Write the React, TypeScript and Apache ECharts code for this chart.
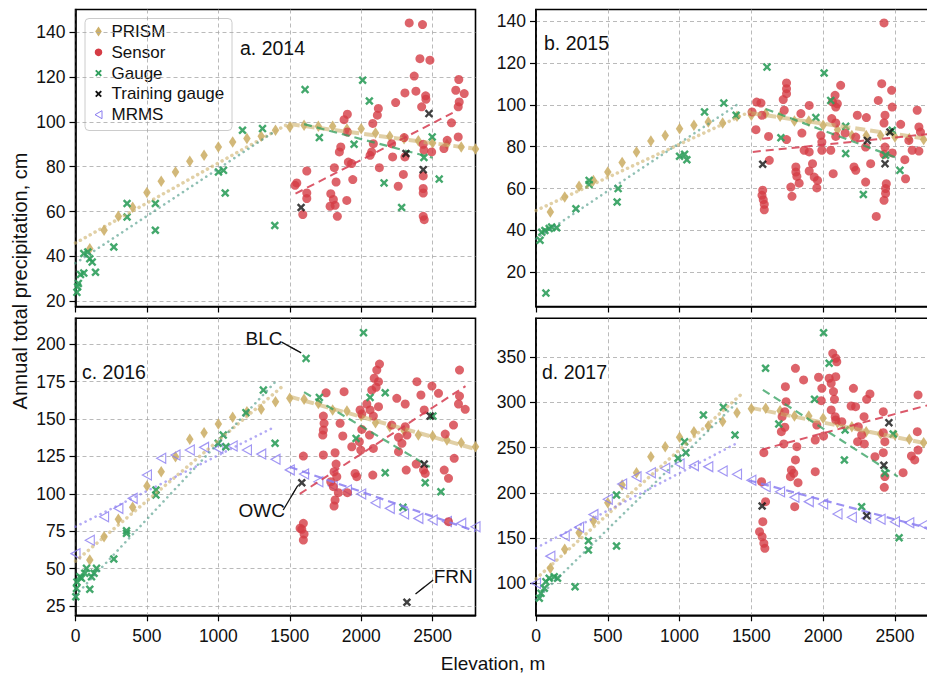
import { useEffect, useRef } from 'react';
import * as echarts from 'echarts';

type P = [number, number];

// ---------- tick labels ----------
const elevationTicks = [0, 500, 1000, 1500, 2000, 2500];
const precipTicks2014 = [20, 40, 60, 80, 100, 120, 140];
const precipTicks2015 = [20, 40, 60, 80, 100, 120, 140];
const precipTicks2016 = [25, 50, 75, 100, 125, 150, 175, 200];
const precipTicks2017 = [100, 150, 200, 250, 300, 350];
const precipRange: P[] = [[17.7, 150.1], [3.7, 145.5], [18.8, 217.4], [64.6, 393.1]];

const panelTitles = ['a. 2014', 'b. 2015', 'c. 2016', 'd. 2017'];
const legendNames = ['PRISM', 'Sensor', 'Gauge', 'Training gauge', 'MRMS'];

// ---------- PRISM (regular elevation bands) ----------
const prismElevation = [100, 200, 300, 400, 500, 600, 700, 800, 900, 1000, 1100, 1200, 1300, 1400,
  1500, 1600, 1700, 1800, 1900, 2000, 2100, 2200, 2300, 2400, 2500, 2600, 2700, 2800];
const prism2014 = [43.5, 51.7, 57.9, 62, 68.5, 73.5, 77.7, 82.4, 85.1, 88.8, 91, 92.6, 93.6, 96.3,
  97.7, 98.5, 98.1, 98, 96.8, 96.9, 95, 93.6, 92.5, 91.6, 90.6, 90, 88.8, 87.9];
const prism2015 = [48.8, 56, 61.1, 63.9, 67.9, 72.4, 77.5, 82.7, 85.4, 88.6, 90.2, 91.8, 91.3, 94.5,
  95, 95.8, 94.5, 92.3, 92.3, 90.2, 88.1, 85.4, 85.4, 85.4, 84.6, 83.9, 83.4, 83];
const prism2016 = [55.8, 71.3, 83, 91, 105.2, 114.8, 124.8, 136.5, 140.9, 146.7, 151.2, 154.9, 156.5, 161.6,
  163.9, 163.2, 160.5, 156.1, 155.4, 152, 147.6, 144.9, 142.2, 139.3, 138.7, 136, 134.2, 131.5];
const prism2017 = [116.6, 137.6, 156, 168.9, 189.2, 208.7, 222.3, 240, 251.1, 261.5, 267.7, 274, 279, 288.7,
  293, 293.6, 290.9, 285.1, 285.1, 282.5, 277.7, 273.2, 267.7, 265.2, 264, 259.3, 255.5, 252];

// ---------- MRMS (2016 and 2017 only) ----------
const mrmsElevation = [0, 100, 200, 300, 400, 500, 600, 700, 800, 900, 1000, 1100, 1200, 1300, 1400,
  1500, 1600, 1700, 1800, 1900, 2000, 2100, 2200, 2300, 2400, 2500, 2600, 2700, 2800];
const mrms2016 = [60, 69, 84.7, 90.3, 97, 112.6, 123.8, 126, 129.3, 131.1, 130.4, 132, 129.3, 126.6, 123.1,
  116, 113.3, 108.1, 105.4, 102.6, 99.9, 94.1, 90.3, 86.5, 83.6, 82.5, 81.5, 80.3, 78];
const mrms2017 = [100, 130, 152.5, 162, 176, 193, 209.8, 217.9, 222.3, 227.2, 232, 230.1, 229, 224.2, 220.6,
  214, 206.8, 201.3, 195.1, 190.3, 187.7, 176.7, 173, 171.9, 170.8, 168.1, 167, 164.5, 162];

// ---------- precipitation gauges [elevation m, cm] ----------
const gauge2014: P[] = [[10, 24], [15, 26.5], [20, 28], [35, 32], [58, 32.6], [58, 41.3], [86, 42], [100, 39],
  [117, 37.5], [140, 33], [268, 44.2], [361, 57.6], [361, 63.6], [559, 63.6], [559, 51.7], [1001, 77.7],
  [1036, 78.4], [1048, 68.3], [1169, 96.3], [1309, 97], [1395, 53.8], [1607, 114.4], [1707, 93], [1950, 90],
  [2010, 118.6], [2057, 109.3], [2160, 72.8], [2283, 61.8], [2439, 84.1], [2497, 93.3], [2546, 74.5]];
const gauge2015: P[] = [[28, 35.3], [40, 39.2], [62, 40], [92, 40.9], [109, 41.6], [144, 41.3], [69, 10.1],
  [278, 50.4], [370, 63.9], [370, 62], [572, 60], [565, 53.6], [1000, 75.4], [1035, 76.4], [1051, 73.8],
  [1174, 96.6], [1308, 100.8], [1394, 95], [1609, 118], [1706, 84.3], [1949, 93.9], [2007, 115.2],
  [2053, 102.1], [2157, 89.7], [2157, 76.7], [2280, 57.2], [2435, 75.9], [2481, 87.8], [2535, 68.7]];
const gauge2016: P[] = [[2, 31.2], [7, 36.8], [10, 41], [30, 44.6], [42, 43.5], [65, 46.9], [77, 50.2],
  [100, 36.2], [112, 44.6], [130, 46.9], [147, 50.2], [268, 56.4], [357, 75.3], [357, 73.6], [563, 102.6],
  [563, 99.2], [999, 133.8], [1034, 139.3], [1053, 131.5], [1193, 154.3], [1315, 169.4], [1397, 133.8],
  [1614, 190.6], [1707, 164.5], [1964, 137.1], [2016, 207.8], [2062, 164.5], [2168, 167.6], [2168, 114.1],
  [2292, 91], [2448, 107.4], [2502, 152], [2558, 101.4]];
const gauge2017: P[] = [[23, 83.4], [35, 88.9], [58, 94.5], [69, 101.8], [92, 105.5], [127, 107.3], [150, 105.5],
  [272, 96.2], [365, 147.1], [365, 136.8], [561, 141.3], [561, 197.7], [989, 238.3], [1035, 256.6],
  [1044, 244.5], [1166, 286.2], [1305, 294.7], [1386, 264], [1599, 337.8], [1691, 276.2], [1940, 303.5],
  [2003, 377.2], [2042, 343.4], [2148, 236.4], [2153, 269.6], [2268, 184.7], [2430, 221.7], [2488, 265.2],
  [2529, 150.4]];

// ---------- training gauges ----------
const training2014: P[] = [[1579, 61.8], [2313, 85.9], [2434, 78.7], [2474, 103.7]];
const training2015: P[] = [[1579, 71.6], [2308, 83], [2431, 71.9], [2465, 87]];
const training2016: P[] = [[1584, 107.4], [2320, 27.5], [2441, 119.9], [2483, 152]];
const training2017: P[] = [[1575, 185.5], [2303, 174.8], [2423, 230.5], [2458, 277.7]];

// ---------- snow-depth sensor network ----------
const sensor2014: P[] = [[2336, 144.1], [2429, 143.4], [2411, 128.2], [2481, 127.5], [2371, 120.4], [2683, 118.9],
  [2306, 112.9], [2383, 113.7], [2451, 111.6], [2453, 110.1], [2662, 114.1], [2721, 112.6], [2686, 108.9],
  [2679, 106.7], [2241, 108.6], [2120, 106], [2113, 103], [1903, 103.4], [1880, 101], [2081, 99.3], [1903, 95.5],
  [2301, 93], [2423, 106.7], [2632, 99.6], [2679, 93.3], [2602, 91.8], [2579, 88.1], [2493, 86.6], [2434, 90],
  [2439, 87.4], [2213, 90.3], [2220, 84.4], [2306, 84.4], [2085, 90.3], [2073, 86.6], [2062, 85.1], [1857, 88.8],
  [1847, 86.6], [1910, 82.1], [1933, 81.4], [2127, 79.6], [1619, 78.1], [1812, 79.6], [1941, 74.3], [2295, 76.6],
  [2259, 71.3], [2434, 75.9], [2434, 70.3], [2434, 68.3], [1824, 73.2], [1537, 71.7], [1549, 72.8], [1619, 68.3],
  [1619, 65.8], [1787, 68], [1805, 65.4], [1817, 62.8], [1782, 62.4], [1899, 65], [1591, 58.7], [1833, 57.9],
  [2434, 57.9], [2441, 56.4]];
const sensor2015: P[] = [[2424, 139.1], [2408, 110.1], [2477, 106.9], [2122, 109.3], [2083, 104.5], [1745, 110.4],
  [1745, 107.7], [1745, 105.3], [1722, 102.5], [1537, 101.3], [1567, 100.8], [1903, 99.7], [2065, 101.3],
  [2099, 100.5], [2088, 98.9], [2384, 102.1], [2481, 98.9], [2655, 97.4], [1505, 96.6], [1574, 95], [1729, 97.4],
  [1845, 95.8], [2238, 95], [2301, 93.9], [2431, 95], [2424, 91.3], [2540, 90.7], [2060, 93.4], [2088, 91.3],
  [2667, 89.4], [2678, 87], [1532, 88.1], [1620, 84.9], [1852, 86.5], [1984, 85.4], [1991, 82.2], [2088, 84.9],
  [2153, 86.5], [2227, 84.6], [2597, 83], [1745, 83.4], [1868, 78.3], [1903, 77.5], [1991, 78.3], [2053, 78.3],
  [2296, 79.8], [2431, 79.8], [2481, 77], [2620, 78.3], [2667, 77.9], [2569, 73.8], [1625, 73.5], [1926, 71.9],
  [1810, 70.3], [1810, 67.9], [1903, 68.4], [1817, 65.8], [1938, 65.5], [1961, 63.9], [2070, 67.1], [2215, 70.3],
  [2227, 68.7], [2331, 71.9], [2424, 76.4], [1833, 62.6], [1775, 60.7], [1956, 60.3], [2296, 63.1], [2440, 62.3],
  [2435, 60], [2435, 57.6], [2424, 54.4], [2574, 64.7], [1783, 56.3], [1579, 59.2], [1574, 56.8], [1583, 54.7],
  [1590, 52.5], [1590, 49.9], [2370, 46.7]];
const sensor2016: P[] = [[2128, 186.8], [2109, 182.8], [2091, 177.3], [2121, 175], [2104, 171.3], [2688, 182.8],
  [2390, 175], [2495, 172.1], [1754, 167.6], [1880, 168.3], [2074, 169.4], [2121, 158.3], [2249, 163.9],
  [2308, 160.1], [2418, 166.1], [2541, 167.2], [2688, 165.4], [2681, 160.1], [2728, 156.5], [2441, 156.1],
  [2039, 160.1], [2062, 156.1], [1992, 156.1], [2085, 152], [2004, 153.4], [1735, 152], [1740, 147.2],
  [1735, 142.7], [1731, 139.3], [1852, 147.2], [2214, 146], [2308, 144.9], [2261, 137.8], [2285, 133.8],
  [2320, 139.3], [2646, 146], [2588, 140], [2004, 143.1], [2058, 139.3], [1871, 138.7], [1934, 131.5],
  [1987, 134.9], [1997, 129.3], [2085, 130.4], [2261, 128.2], [1735, 126], [1817, 127.5], [1595, 125.3],
  [1824, 119.9], [1957, 113.7], [1969, 111.5], [2081, 112.6], [1810, 114.8], [1829, 111.5], [1787, 108.1],
  [1805, 104.8], [1840, 100.8], [1903, 100.8], [1817, 95.9], [1810, 91.9], [2385, 119.9], [2436, 115.9],
  [2315, 115.9], [2448, 113.7], [2581, 115.9], [2611, 110.4], [2651, 123.8], [2611, 81.4], [1595, 80.3],
  [1584, 76.3], [1600, 73.1], [1595, 69.1], [1572, 77]];
const sensor2017: P[] = [[2067, 354.4], [2088, 348.9], [2095, 345], [1807, 337.8], [1968, 327.9], [1864, 324.9],
  [2042, 326.8], [2088, 328.5], [2056, 321.2], [1737, 317.5], [1991, 315.7], [2072, 312], [2211, 315.7],
  [2326, 309.4], [2303, 303.5], [2079, 303.5], [2661, 308.3], [1742, 300.9], [1987, 302], [2195, 296.1],
  [2226, 295.4], [2056, 291.7], [2419, 289.8], [1733, 289.8], [1714, 284.3], [2285, 284.3], [2084, 284.3],
  [2088, 280.6], [2130, 278.8], [1956, 275.1], [2245, 273.2], [1733, 272.6], [1709, 267.7], [2656, 267.7],
  [2419, 266.6], [2003, 262.9], [1945, 258.5], [2268, 264], [2240, 256.6], [2287, 254.1], [2430, 256.6],
  [1726, 254.1], [1817, 251.1], [1587, 244.5], [2661, 247.4], [2615, 240.8], [2638, 236.4], [2361, 240.1],
  [2419, 244.5], [1807, 236.4], [1779, 225.3], [1795, 221.7], [1825, 211.3], [1772, 217.9], [1945, 223.5],
  [2430, 218], [2426, 206.2], [2557, 222.3], [1571, 212.4], [1599, 190.3], [1580, 168.1], [1557, 157.1],
  [1575, 151.5], [1587, 144.2], [1594, 138.7], [1802, 184.7]];

// ---------- linear fits (end points), one entry per year ----------
const prismFitLow: P[][] = [[[0, 46], [1500, 99.5]], [[0, 49.5], [1500, 97]], [[0, 55], [1450, 172]], [[0, 105], [1450, 312]]];
const prismFitHigh: P[][] = [[[1500, 99], [2800, 88]], [[1500, 96], [2800, 83]], [[1500, 165], [2800, 130]], [[1500, 294], [2800, 252]]];
const gaugeFitLow: P[][] = [[[0, 37], [1400, 96]], [[0, 36], [1400, 100]], [[0, 32], [1400, 175]], [[0, 82], [1400, 300]]];
const gaugeFitHigh: P[][] = [[[1600, 99], [2500, 84]], [[1600, 98], [2500, 75]], [[1600, 168], [2480, 118]], [[1580, 314], [2520, 218]]];
const sensorFit: P[][] = [[[1540, 68], [2640, 104]], [[1510, 77.5], [2800, 86.5]], [[1570, 100], [2730, 172]], [[1575, 248], [2800, 300]]];
const mrmsFitLow: (P[] | null)[] = [null, null, [[0, 78], [1400, 145]], [[0, 139], [1400, 255]]];
const mrmsFitHigh: (P[] | null)[] = [null, null, [[1500, 118], [2800, 75]], [[1480, 214], [2800, 158]]];

// ---------- named stations in 2016 ----------
const stationNames = ['BLC', 'OWC', 'FRN'];
const stationLabelAt: P[] = [[1320, 204], [1303, 89.2], [2644, 44.6]];
const stationArrowFrom: P[] = [[1443, 201.5], [1454, 89.2], [2504, 42.4]];
const stationArrowTo: P[] = [[1580, 194.3], [1556, 105.6], [2380, 33]];

const prismByYear = [prism2014, prism2015, prism2016, prism2017];
const mrmsByYear = [null, null, mrms2016, mrms2017];
const gaugeByYear = [gauge2014, gauge2015, gauge2016, gauge2017];
const trainingByYear = [training2014, training2015, training2016, training2017];
const sensorByYear = [sensor2014, sensor2015, sensor2016, sensor2017];
const precipTicks = [precipTicks2014, precipTicks2015, precipTicks2016, precipTicks2017];

// ---------- styling ----------
const FONT = "'Liberation Sans', Arial, Helvetica, sans-serif";
const C_PRISM = '#cdb06a';
const C_SENSOR = '#d53c45';
const C_GAUGE = '#2f9e5c';
const C_TRAIN = '#111111';
const C_MRMS = '#8a7cf0';
const X_PATH = 'path://M2,0 L5,3 L8,0 L10,2 L7,5 L10,8 L8,10 L5,7 L2,10 L0,8 L3,5 L0,2 Z';
const TRI_LEFT = 'path://M0,5 L10,0 L10,10 Z';

const frames = [
  { left: 75.5, top: 9.5, width: 400, height: 297 },
  { left: 536, top: 9.5, width: 402, height: 297 },
  { left: 75.5, top: 318.3, width: 400, height: 297 },
  { left: 536, top: 318.3, width: 402, height: 297 },
];
const titlePos: P[] = [[240, 48], [544, 43], [82, 372], [542, 372]];

const zip = (xs: number[], ys: number[]): P[] => xs.map((x, i) => [x, ys[i]]);
const plainNumber = (v: number) => String(v);

function fitLine(data: P[], i: number, color: string, width: number, dash: number[], round: boolean) {
  return {
    type: 'line', xAxisIndex: i, yAxisIndex: i, data, symbol: 'none', silent: true,
    z: 4, clip: true,
    lineStyle: { color, width, type: dash, cap: round ? 'round' : 'butt' },
    emphasis: { disabled: true },
  };
}

function buildSeries() {
  const series: any[] = [];
  for (let i = 0; i < 4; i++) {
    const base = { type: 'scatter', xAxisIndex: i, yAxisIndex: i, silent: true, emphasis: { disabled: true }, z: 3 };
    series.push({ ...base, name: 'PRISM', data: zip(prismElevation, prismByYear[i]), symbol: 'diamond',
      symbolSize: [7.5, 11.5], itemStyle: { color: C_PRISM, opacity: 0.9 } });
    const mrms = mrmsByYear[i];
    if (mrms) {
      series.push({ ...base, name: 'MRMS', data: zip(mrmsElevation, mrms), symbol: TRI_LEFT,
        symbolSize: [9, 10], itemStyle: { color: 'rgba(255,255,255,0)', borderColor: C_MRMS, borderWidth: 1.2 } });
    }
    series.push({ ...base, name: 'Sensor', data: sensorByYear[i], symbol: 'circle', symbolSize: 9,
      itemStyle: { color: C_SENSOR } });
    series.push({ ...base, name: 'Gauge', data: gaugeByYear[i], symbol: X_PATH, symbolSize: 8.5,
      itemStyle: { color: C_GAUGE, opacity: 0.9 } });
    const training: any = { ...base, name: 'Training gauge', data: trainingByYear[i], symbol: X_PATH,
      symbolSize: 8.5, itemStyle: { color: C_TRAIN }, z: 5 };
    if (i === 2) {
      training.markLine = {
        silent: true, symbol: ['none', 'arrow'], symbolSize: [1, 12], precision: 2,
        label: { show: false }, emphasis: { disabled: true },
        lineStyle: { color: '#111', width: 1.3, type: 'solid' },
        data: stationNames.map((_, k) => [{ coord: stationArrowFrom[k] }, { coord: stationArrowTo[k] }]),
      };
      training.markPoint = {
        silent: true, symbol: 'circle', symbolSize: 1, itemStyle: { color: 'rgba(0,0,0,0)' },
        label: { show: true, position: 'inside', formatter: '{b}', color: '#111', fontSize: 19, fontFamily: FONT },
        data: stationNames.map((name, k) => ({ name, coord: stationLabelAt[k] })),
      };
    }
    series.push(training);

    series.push(fitLine(prismFitLow[i], i, 'rgba(205,176,106,0.6)', 3.5, [0.1, 5.5], true));
    series.push(fitLine(prismFitHigh[i], i, 'rgba(205,176,106,0.6)', 4, [10, 5], false));
    series.push(fitLine(gaugeFitLow[i], i, 'rgba(70,150,130,0.6)', 2.6, [0.1, 5.5], true));
    series.push(fitLine(gaugeFitHigh[i], i, 'rgba(47,158,92,0.75)', 2.2, [8, 5], false));
    series.push(fitLine(sensorFit[i], i, 'rgba(213,60,80,0.85)', 2, [8, 5], false));
    const ml = mrmsFitLow[i];
    const mh = mrmsFitHigh[i];
    if (ml) series.push(fitLine(ml, i, 'rgba(138,124,240,0.65)', 2.6, [0.1, 5.5], true));
    if (mh) series.push(fitLine(mh, i, 'rgba(138,124,240,0.85)', 2.2, [8, 5], false));
  }
  return series;
}

function legendGraphic() {
  const left = 85, top = 18.5, rowH = 20.8, mx = 98.5, tx = 111.5;
  const children: any[] = [{
    type: 'rect', shape: { x: left, y: top, width: 147, height: 112, r: 4 },
    style: { fill: 'rgba(255,255,255,0.9)', stroke: '#cccccc', lineWidth: 1 },
  }];
  legendNames.forEach((name, k) => {
    const cy = top + 13 + k * rowH;
    let marker: any;
    if (k === 0) {
      marker = { type: 'polygon', shape: { points: [[mx, cy - 5], [mx + 3.3, cy], [mx, cy + 5], [mx - 3.3, cy]] }, style: { fill: C_PRISM } };
    } else if (k === 1) {
      marker = { type: 'circle', shape: { cx: mx, cy, r: 3.8 }, style: { fill: C_SENSOR } };
    } else if (k === 2 || k === 3) {
      const s = 3.4, w = 1.3;
      marker = { type: 'polygon', shape: { points: [
        [mx - s, cy - s + w], [mx - s + w, cy - s], [mx, cy - w], [mx + s - w, cy - s], [mx + s, cy - s + w], [mx + w, cy],
        [mx + s, cy + s - w], [mx + s - w, cy + s], [mx, cy + w], [mx - s + w, cy + s], [mx - s, cy + s - w], [mx - w, cy]] },
        style: { fill: k === 2 ? C_GAUGE : C_TRAIN } };
    } else {
      marker = { type: 'polygon', shape: { points: [[mx - 3.5, cy], [mx + 3.5, cy - 4], [mx + 3.5, cy + 4]] },
        style: { fill: 'none', stroke: C_MRMS, lineWidth: 1 } };
    }
    children.push(marker);
    children.push({ type: 'text', x: tx, y: cy, style: { text: name, fontSize: 17, fontFamily: FONT, fill: '#111',
      align: 'left', verticalAlign: 'middle', textAlign: 'left', textVerticalAlign: 'middle' } });
  });
  return { type: 'group', silent: true, z: 50, children };
}

function buildOption() {
  const axisLine = { show: true, onZero: false, lineStyle: { color: '#000', width: 1.6 } };
  const splitLine = { show: true, lineStyle: { color: '#a8a8a8', width: 0.8, type: [4, 3] } };
  const tick = (values: number[]) => ({ show: true, inside: false, length: 6, customValues: values, lineStyle: { color: '#000', width: 1.2 } });
  return {
    animation: false,
    backgroundColor: '#ffffff',
    textStyle: { fontFamily: FONT },
    grid: frames.map((f) => ({ ...f, show: true, borderColor: '#000', borderWidth: 1.6,
      backgroundColor: 'rgba(0,0,0,0)', containLabel: false, outerBoundsMode: 'none' })),
    xAxis: frames.map((_, i) => ({
      type: 'value', gridIndex: i, min: 0, max: 2800, position: 'bottom',
      axisLine, axisTick: tick(elevationTicks), splitLine,
      axisLabel: { show: i >= 2, customValues: elevationTicks, formatter: plainNumber, margin: 12,
        fontSize: 17.5, color: '#111', fontFamily: FONT },
    })),
    yAxis: frames.map((_, i) => ({
      type: 'value', gridIndex: i, min: precipRange[i][0], max: precipRange[i][1], position: 'left',
      axisLine, axisTick: tick(precipTicks[i]), splitLine,
      axisLabel: { customValues: precipTicks[i], formatter: plainNumber, margin: 10, fontSize: 17.5,
        color: '#111', fontFamily: FONT },
    })),
    series: buildSeries(),
    graphic: [
      ...panelTitles.map((t, i) => ({
        type: 'text', x: titlePos[i][0], y: titlePos[i][1], silent: true, z: 40,
        style: { text: t, fontSize: 19.5, fontFamily: FONT, fill: '#111', align: 'left', verticalAlign: 'middle',
          textAlign: 'left', textVerticalAlign: 'middle' },
      })),
      legendGraphic(),
      {
        type: 'text', x: 19.5, y: 281, rotation: Math.PI / 2, silent: true,
        style: { text: 'Annual total precipitation, cm', fontSize: 20, fontFamily: FONT, fill: '#111',
          align: 'center', verticalAlign: 'middle', textAlign: 'center', textVerticalAlign: 'middle' },
      },
      {
        type: 'text', x: 493, y: 663, silent: true,
        style: { text: 'Elevation, m', fontSize: 19, fontFamily: FONT, fill: '#111',
          align: 'center', verticalAlign: 'middle', textAlign: 'center', textVerticalAlign: 'middle' },
      },
    ],
  };
}

export default function App() {
  const ref = useRef<HTMLDivElement>(null);
  useEffect(() => {
    if (!ref.current) return;
    const chart = echarts.init(ref.current, null, { renderer: 'svg' });
    chart.setOption(buildOption() as any);
    return () => chart.dispose();
  }, []);
  return (
    <div
      ref={ref}
      style={{ position: 'absolute', left: 0, top: 0, width: 927, height: 674, background: '#fff' }}
    />
  );
}
